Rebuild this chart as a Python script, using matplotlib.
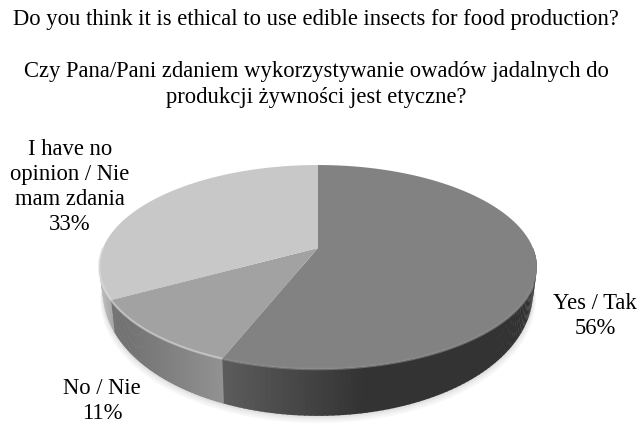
import numpy as np
import matplotlib
matplotlib.use("Agg")
import matplotlib.pyplot as plt
from matplotlib.patches import Polygon

title_lines = ["Do you think it is ethical to use edible insects for food production?",
               "Czy Pana/Pani zdaniem wykorzystywanie owadów jadalnych do",
               "produkcji żywności jest etyczne?"]
labels = ["Yes / Tak\n56%", "No / Nie\n11%", "I have no\nopinion / Nie\nmam zdania\n33%"]
shares = [56, 11, 33]
top_cols = ["#828282", "#a2a2a2", "#c8c8c8"]
# rim shade at the left and right end of each slice
rim_cols = [(0x62, 0x33), (0x6e, 0x92), (0xb4, 0xa4)]

plt.rcParams["font.family"] = ["Liberation Serif", "DejaVu Serif"]

fig = plt.figure(figsize=(6.4, 4.27), dpi=100)
ax = fig.add_axes([0, 0, 1, 1])
ax.set_xlim(0, 640)
ax.set_ylim(427, 0)
ax.axis("off")

cx, cy, sx, sy, k = 318, 249, 215, 98.4, 0.186

def top(a):
    # disc seen in perspective, a runs clockwise from 12 o'clock
    d = 1 + k*np.cos(a)
    return cx + sx*np.sin(a)/d, cy + -sy*np.cos(a)/d

def bottom(a):
    x, y = top(a)
    return cx + (x - cx)*0.983, y + 19 - 28*np.cos(a)

edges = np.cumsum([0] + shares) / 100 * 2*np.pi

# soft shadow below the disc, front half only
a = np.linspace(np.pi/2, 3*np.pi/2, 120)
bx, by = bottom(a)
for grow, g in [(7, 0.97), (5, 0.94), (3, 0.91), (1.5, 0.88)]:
    ax.add_patch(Polygon(np.c_[bx + 0.4*grow*np.sin(a), by + grow], closed=True,
                         fc=str(g), ec="none"))

# rim, drawn as thin strips so the shade can change along each slice
for i in range(3):
    lo, hi = max(edges[i], np.pi/2), min(edges[i+1], 3*np.pi/2)
    if hi <= lo:
        continue
    ts = np.linspace(lo, hi, 90)
    x0 = top(lo)[0]
    x1 = top(hi)[0]
    for j in range(len(ts) - 1):
        seg = np.linspace(ts[j], ts[j+1] + 0.005, 4)
        xt, yt = top(seg)
        xb, yb = bottom(seg)
        frac = (xt.mean() - min(x0, x1)) / abs(x1 - x0)
        c0, c1 = rim_cols[i]
        g = (c0 + (c1 - c0)*frac) / 255
        if i == 0:
            # the front slice gets darker towards the right quickly
            g = (0x5c + (0x33 - 0x5c)*min(frac*2.2, 1)) / 255
        pts = np.r_[np.c_[xt, yt], np.c_[xb[::-1], yb[::-1]]]
        ax.add_patch(Polygon(pts, closed=True, fc=str(g), ec="none"))

# top face
for i in range(3):
    a = np.linspace(edges[i], edges[i+1], 160)
    x, y = top(a)
    pts = np.r_[[[cx, cy]], np.c_[x, y]]
    ax.add_patch(Polygon(pts, closed=True, fc=top_cols[i], ec="none"))

# bevel along the front edge of the top face
for i, (col, lw) in enumerate([("#8c8c8c", 2.0), ("#d8d8d8", 1.6), ("#e0e0e0", 1.6)]):
    lo, hi = max(edges[i], np.pi/2 + 0.35), min(edges[i+1], 3*np.pi/2)
    a = np.linspace(lo, hi, 80)
    x, y = top(a)
    ax.plot(x, y, color=col, lw=lw, alpha=0.6, solid_capstyle="butt")

ax.text(316, 19, title_lines[0], ha="center", va="center", fontsize=16.3)
ax.text(316, 72, title_lines[1], ha="center", va="center", fontsize=16.3)
ax.text(316, 98, title_lines[2], ha="center", va="center", fontsize=16.3)

ax.text(595, 316, labels[0], ha="center", va="center", fontsize=16.3, linespacing=1.27)
ax.text(102, 401, labels[1], ha="center", va="center", fontsize=16.3, linespacing=1.2)
ax.text(70, 187, labels[2], ha="center", va="center", fontsize=16.3, linespacing=1.27)

fig.savefig("out.png", dpi=100)
